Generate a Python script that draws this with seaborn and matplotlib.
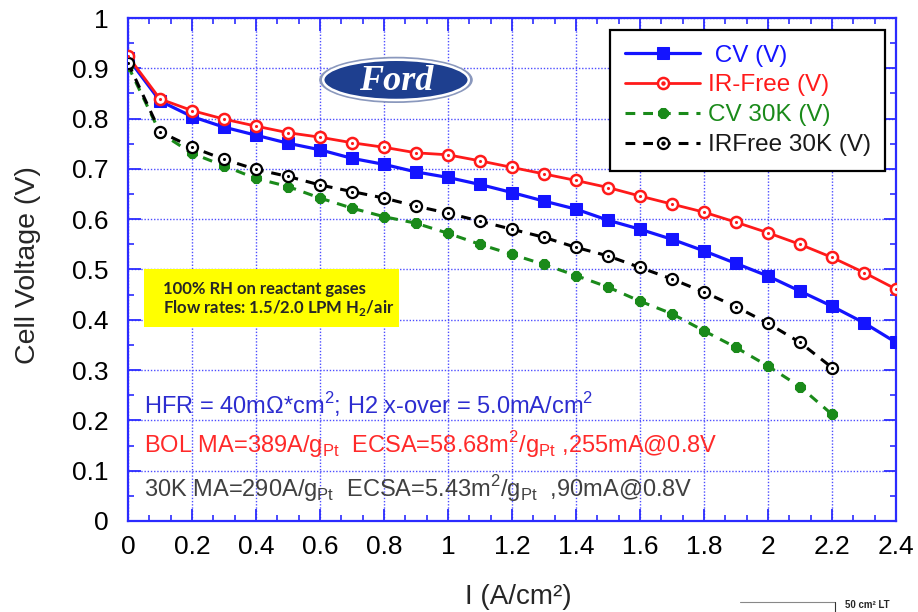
import numpy as np
import pandas as pd
import matplotlib
matplotlib.use("Agg")
import matplotlib.pyplot as plt
import seaborn as sns
from matplotlib.patches import Ellipse, Rectangle
from matplotlib.lines import Line2D
from matplotlib.ticker import MultipleLocator, FormatStrFormatter
from matplotlib.legend_handler import HandlerTuple

# ---------------- data ----------------
current = [0.0, 0.1, 0.2, 0.3, 0.4, 0.5, 0.6, 0.7, 0.8, 0.9, 1.0, 1.1, 1.2,
           1.3, 1.4, 1.5, 1.6, 1.7, 1.8, 1.9, 2.0, 2.1, 2.2, 2.3, 2.4]
cv = [0.920, 0.835, 0.804, 0.783, 0.767, 0.751, 0.738, 0.721, 0.709, 0.694,
      0.683, 0.669, 0.653, 0.636, 0.620, 0.598, 0.580, 0.560, 0.537, 0.512,
      0.487, 0.457, 0.427, 0.394, 0.355]
ir_free = [0.924, 0.839, 0.816, 0.799, 0.785, 0.772, 0.763, 0.752, 0.743,
           0.732, 0.728, 0.716, 0.703, 0.690, 0.677, 0.663, 0.646, 0.630,
           0.614, 0.594, 0.573, 0.550, 0.524, 0.494, 0.461]
current_30k = [0.0, 0.1, 0.2, 0.3, 0.4, 0.5, 0.6, 0.7, 0.8, 0.9, 1.0, 1.1,
               1.2, 1.3, 1.4, 1.5, 1.6, 1.7, 1.8, 1.9, 2.0, 2.1, 2.2]
cv_30k = [0.905, 0.772, 0.731, 0.706, 0.681, 0.665, 0.642, 0.622, 0.605,
          0.592, 0.572, 0.550, 0.530, 0.510, 0.488, 0.465, 0.437, 0.412,
          0.378, 0.345, 0.308, 0.267, 0.212]
ir_free_30k = [0.911, 0.774, 0.743, 0.719, 0.699, 0.685, 0.668, 0.655, 0.642,
               0.626, 0.612, 0.596, 0.580, 0.564, 0.544, 0.527, 0.504, 0.481,
               0.455, 0.426, 0.393, 0.355, 0.305]
series_labels = [" CV (V)", "IR-Free (V)", "CV 30K (V)", "IRFree 30K (V)"]
x_ticks = [0, 0.2, 0.4, 0.6, 0.8, 1.0, 1.2, 1.4, 1.6, 1.8, 2.0, 2.2, 2.4]

# ---------------- style ----------------
sns.set_theme(style="white")
plt.rcParams["font.family"] = ["Liberation Sans", "DejaVu Sans"]
plt.rcParams["mathtext.fontset"] = "custom"
plt.rcParams["mathtext.rm"] = "Liberation Sans"

BLUE = "#1414ff"
RED = "#ff1a1a"
GREEN = "#1a8a1a"
BLACK = "#000000"
AX_BLUE = "#2b2bff"

fig = plt.figure(figsize=(9.18, 6.12), dpi=100)
ax = fig.add_axes([128 / 918, 1 - 521 / 612, 768 / 918, 503 / 612])

df_a = pd.DataFrame({"I": current, "cv": cv, "ir": ir_free})
df_b = pd.DataFrame({"I": current_30k, "cv": cv_30k, "ir": ir_free_30k})

sns.lineplot(data=df_a, x="I", y="cv", ax=ax, color=BLUE, lw=2.3,
             marker="s", markersize=8, markerfacecolor=BLUE,
             markeredgecolor=BLUE, label=series_labels[0], zorder=3)
sns.lineplot(data=df_a, x="I", y="ir", ax=ax, color=RED, lw=2.0,
             marker="o", markersize=8, markerfacecolor="white",
             markeredgecolor=RED, markeredgewidth=1.8,
             label=series_labels[1], zorder=4)
sns.lineplot(data=df_b, x="I", y="cv", ax=ax, color=GREEN, lw=2.2,
             marker="8", markersize=8.5, markerfacecolor=GREEN,
             markeredgecolor=GREEN, label=series_labels[2], zorder=5)
sns.lineplot(data=df_b, x="I", y="ir", ax=ax, color=BLACK, lw=2.2,
             marker="o", markersize=8, markerfacecolor="white",
             markeredgecolor=BLACK, markeredgewidth=1.6,
             label=series_labels[3], zorder=6)
lines = ax.get_lines()
for ln in lines[2:4]:
    ln.set_dashes([3.2, 2.6])

# centre dots of the open circles
sns.scatterplot(data=df_a, x="I", y="ir", ax=ax, s=5, color=RED,
                edgecolor=RED, linewidth=0, zorder=7, legend=False)
sns.scatterplot(data=df_b, x="I", y="ir", ax=ax, s=5, color=BLACK,
                edgecolor=BLACK, linewidth=0, zorder=8, legend=False)

# ---------------- axes ----------------
ax.set_xlim(0, 2.4)
ax.set_ylim(0, 1.0)
ax.set_xticks(x_ticks)
ax.xaxis.set_minor_locator(MultipleLocator(0.2 / 3))
ax.yaxis.set_major_locator(MultipleLocator(0.1))
ax.yaxis.set_minor_locator(MultipleLocator(0.05))
ax.xaxis.set_major_formatter(FormatStrFormatter("%g"))
ax.yaxis.set_major_formatter(FormatStrFormatter("%g"))
ax.tick_params(which="both", direction="in", top=True, right=True,
               bottom=True, left=True, color=AX_BLUE, labelcolor="black")
ax.tick_params(which="major", length=9, width=1.3, labelsize=19)
ax.tick_params(axis="x", which="major", pad=10)
ax.tick_params(axis="y", which="major", pad=14)
ax.tick_params(which="minor", length=4.5, width=1.2)
for sp in ax.spines.values():
    sp.set_color(AX_BLUE)
    sp.set_linewidth(1.6)
ax.grid(which="major", color="#4d4dff", linestyle=(0, (1, 1.3)),
        linewidth=1.0)
ax.set_axisbelow(True)

ax.set_xlabel("I (A/cm²)", fontsize=20, va="center")
ax.xaxis.set_label_coords(0.508, -0.151)
ax.set_ylabel("Cell Voltage (V)", fontsize=20.5, va="center")
ax.yaxis.set_label_coords(-0.13, 0.509)

# ---------------- legend ----------------
handles, labels = ax.get_legend_handles_labels()
dot_r = Line2D([], [], linestyle="none", marker="o", markersize=2.2,
               color=RED)
dot_k = Line2D([], [], linestyle="none", marker="o", markersize=2.2,
               color=BLACK)
handles = [handles[0], (handles[1], dot_r), handles[2], (handles[3], dot_k)]
leg = ax.legend(handles, labels, loc="upper right",
                bbox_to_anchor=(0.986, 0.976), borderaxespad=0,
                fontsize=17.5, handlelength=3.1, handletextpad=0.3,
                labelspacing=0.32, borderpad=0.6, numpoints=1,
                fancybox=False, framealpha=1, edgecolor="black",
                handler_map={tuple: HandlerTuple(ndivide=1)})
leg.get_frame().set_linewidth(1.6)
for txt, c in zip(leg.get_texts(), [BLUE, RED, GREEN, "#1a1a1a"]):
    txt.set_color(c)

# ---------------- annotations ----------------
ax.add_patch(Rectangle((0.05, 0.386), 0.797, 0.115, facecolor="#ffff00",
                       edgecolor="none", zorder=9))
ax.text(0.109, 0.461, "100% RH on reactant gases", fontsize=12,
        family=["Lato", "DejaVu Sans"], fontweight="bold", va="center",
        zorder=10)
ax.text(0.109, 0.423, r"Flow rates: 1.5/2.0 LPM H$_{\mathregular{2}}$/air",
        fontsize=12, family=["Lato", "DejaVu Sans"], fontweight="bold",
        va="center", zorder=10)

SQ = r"$^{\mathregular{2}}$"
PT = r"$_{\mathregular{Pt}}$"
ax.text(0.05, 0.231, "HFR = 40mΩ*cm" + SQ + "; H2 x-over = 5.0mA/cm" + SQ,
        fontsize=17, color="#2d2dd0", va="center", zorder=10)
ax.text(0.05, 0.151,
        "BOL MA=389A/g" + PT + "  ECSA=58.68m" + SQ + "/g" + PT + " ,255mA@0.8V",
        fontsize=17, color="#ff2a2a", va="center", zorder=10)
ax.text(0.05, 0.065,
        "30K MA=290A/g" + PT + "  ECSA=5.43m" + SQ + "/g" + PT + "  ,90mA@0.8V",
        fontsize=17, color="#404040", va="center", zorder=10)

# Ford logo
ax.add_patch(Ellipse((0.8375, 0.877), 0.48, 0.092, facecolor="#8a98bd",
                     edgecolor="none", zorder=9))
ax.add_patch(Ellipse((0.8375, 0.877), 0.455, 0.080, facecolor="#1e3f8f",
                     edgecolor="white", linewidth=1.8, zorder=10))
ax.text(0.8375, 0.874, "Ford", fontsize=26, color="white",
        family=["Liberation Serif", "DejaVu Serif"], style="italic",
        fontweight="bold", ha="center", va="center", zorder=11)

# partial box at bottom-right corner
fig.add_artist(Line2D([740 / 918, 835 / 918], [1 - 602 / 612, 1 - 602 / 612],
                      color="#888888", lw=0.8))
fig.add_artist(Line2D([835 / 918, 835 / 918], [1 - 602 / 612, 0],
                      color="#333333", lw=0.8))
fig.text(845 / 918, 1 - 605 / 612, "50 cm² LT", fontsize=7,
         fontweight="bold", va="center", ha="left")

fig.savefig("out.png", dpi=100)
